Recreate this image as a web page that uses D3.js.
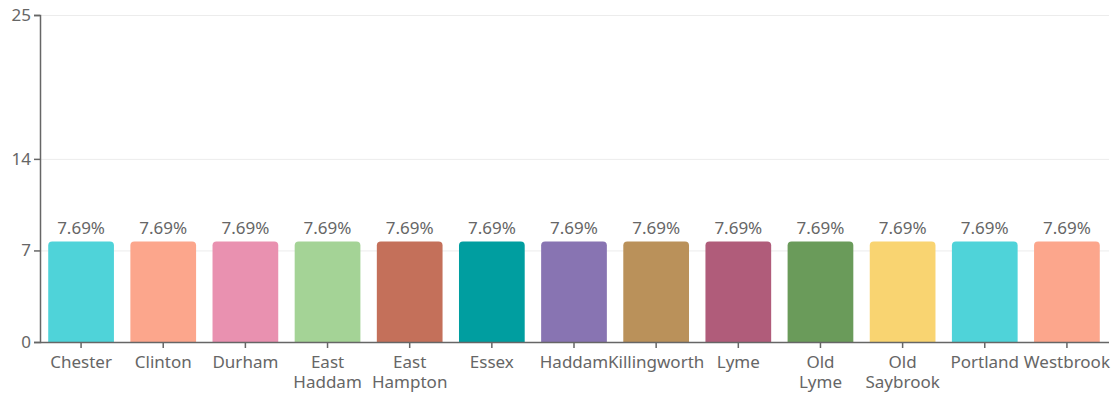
<!DOCTYPE html>
<html>
<head>
<meta charset="utf-8">
<script src="https://cdn.jsdelivr.net/npm/d3@7"></script>
<style>
  body { margin: 0; background: #fff; }
  text { font-family: "Source Sans Pro", "Noto Sans", sans-serif; }
</style>
</head>
<body>
<script>
const towns = ['Chester', 'Clinton', 'Durham', 'East Haddam', 'East Hampton', 'Essex', 'Haddam',
  'Killingworth', 'Lyme', 'Old Lyme', 'Old Saybrook', 'Portland', 'Westbrook'];
const shares = [7.69, 7.69, 7.69, 7.69, 7.69, 7.69, 7.69, 7.69, 7.69, 7.69, 7.69, 7.69, 7.69];
const colors = ['#4fd3d9', '#fca68c', '#e991b0', '#a4d396', '#c4705a', '#009ea0', '#8874b2',
  '#ba915a', '#b05c7a', '#6a9b5a', '#f9d471', '#4fd3d9', '#fca68c'];
const yTicks = [0, 7, 14, 25];

const width = 1119, height = 396;
const margin = { top: 15, right: 10, bottom: 54, left: 40 };

const svg = d3.select('body').append('svg')
  .attr('width', width)
  .attr('height', height);

const x = d3.scaleBand()
  .domain(towns)
  .range([margin.left, width - margin.right - 1])
  .paddingInner(0.2)
  .paddingOuter(0.1);

const y = d3.scaleLinear()
  .domain([0, 25])
  .range([height - margin.bottom, margin.top]);

// grid
svg.append('g')
  .selectAll('line')
  .data(yTicks.filter(d => d > 0))
  .join('line')
  .attr('x1', margin.left)
  .attr('x2', width - margin.right)
  .attr('y1', d => y(d) + 0.5)
  .attr('y2', d => y(d) + 0.5)
  .attr('stroke', '#ececec');

// bars with rounded top corners
const r = 4;
svg.append('g')
  .selectAll('path')
  .data(towns)
  .join('path')
  .attr('fill', (d, i) => colors[i])
  .attr('d', (d, i) => {
    const x0 = x(d), x1 = x(d) + x.bandwidth();
    const y0 = y(shares[i]), y1 = y(0);
    return `M${x0},${y1}V${y0 + r}Q${x0},${y0} ${x0 + r},${y0}H${x1 - r}Q${x1},${y0} ${x1},${y0 + r}V${y1}Z`;
  });

// value labels
svg.append('g')
  .selectAll('text')
  .data(towns)
  .join('text')
  .attr('x', d => x(d) + x.bandwidth() / 2)
  .attr('y', (d, i) => y(shares[i]) - 7)
  .attr('text-anchor', 'middle')
  .style('font-size', '17px')
  .style('fill', '#666')
  .text((d, i) => shares[i].toFixed(2) + '%');

// y axis
const yAxis = svg.append('g')
  .attr('transform', `translate(${margin.left},0)`)
  .call(d3.axisLeft(y).tickValues(yTicks).tickSize(6).tickPadding(3));
yAxis.selectAll('path, line').attr('stroke', '#666').attr('stroke-width', 1.5);
yAxis.selectAll('text').style('font-size', '17px').style('fill', '#666')
  .style('font-family', '"Source Sans Pro", "Noto Sans", sans-serif');

// x axis, two-word towns wrap onto a second line
const xAxis = svg.append('g')
  .attr('transform', `translate(0,${y(0)})`)
  .call(d3.axisBottom(x).tickSize(6).tickSizeOuter(0).tickPadding(8));
xAxis.select('.domain').attr('d', `M${margin.left},0.5H${width - margin.right}`);
xAxis.selectAll('path, line').attr('stroke', '#666').attr('stroke-width', 1.5);
xAxis.selectAll('text')
  .style('font-size', '17px').style('fill', '#666')
  .style('font-family', '"Source Sans Pro", "Noto Sans", sans-serif')
  .each(function (d) {
    const t = d3.select(this);
    const words = d.split(' ');
    t.text(null);
    words.forEach((w, k) => {
      t.append('tspan')
        .attr('x', 0)
        .attr('dy', k === 0 ? '0.71em' : '1.2em')
        .text(w);
    });
  });
xAxis.selectAll('text').attr('dy', null);
</script>
</body>
</html>
